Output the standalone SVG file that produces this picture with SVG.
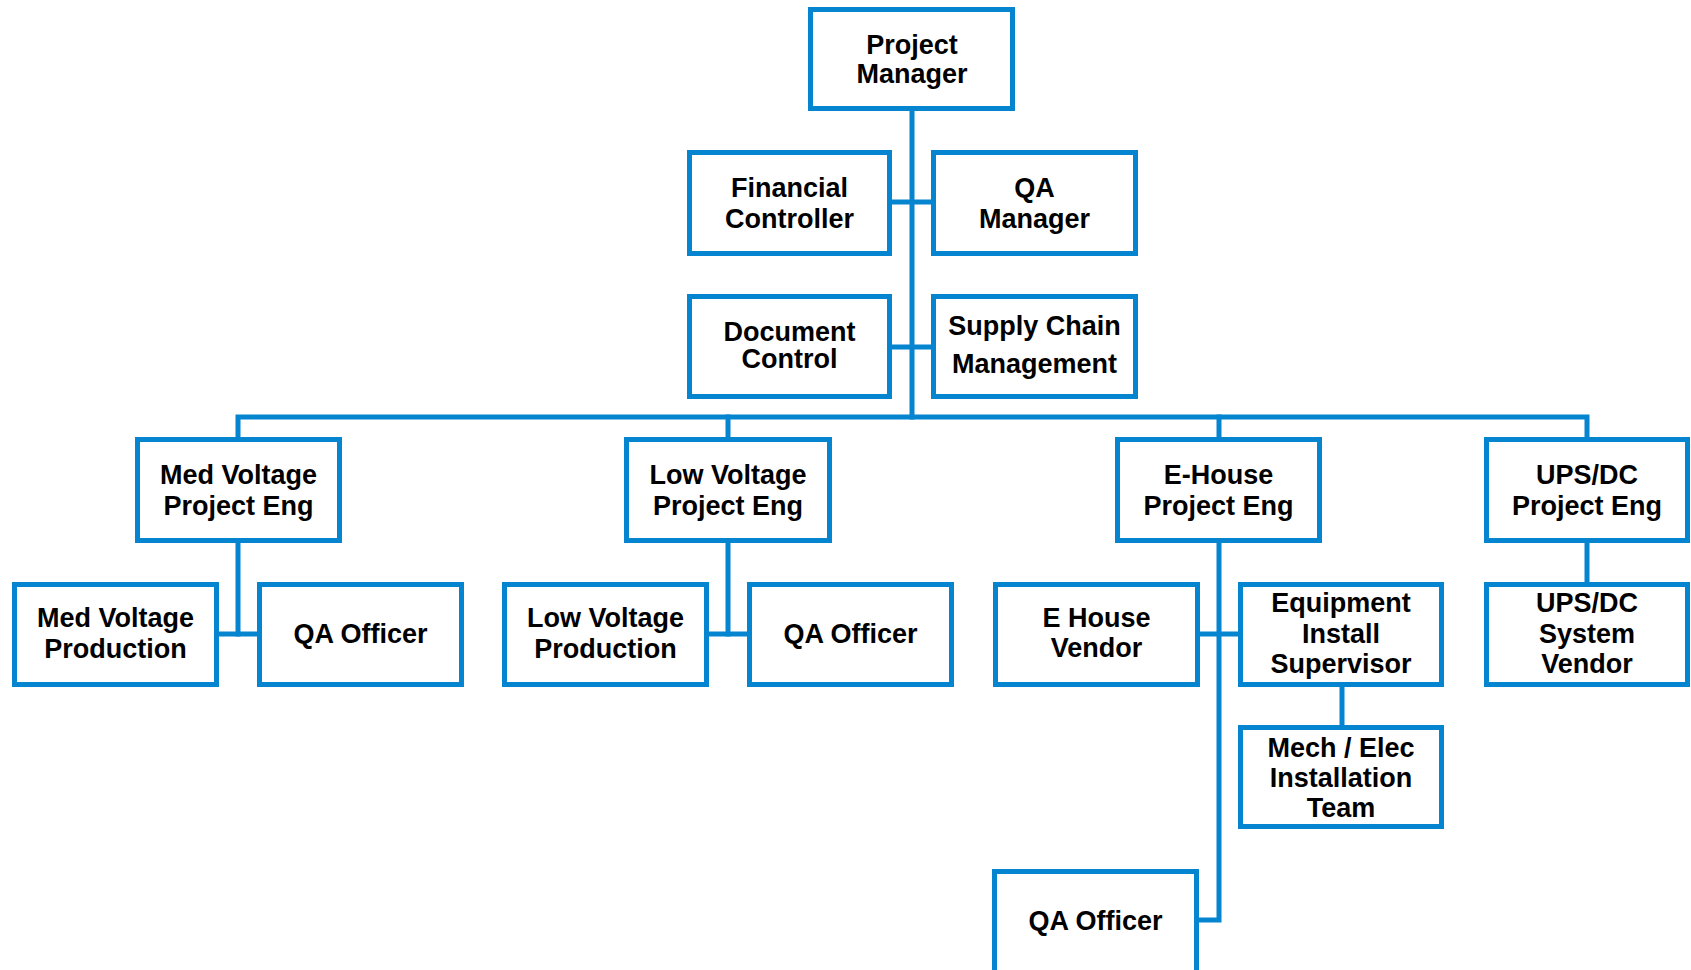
<svg xmlns="http://www.w3.org/2000/svg" width="1691" height="970" viewBox="0 0 1691 970">
<style>
.box{fill:#fff;stroke:#0584D0;stroke-width:5}
.c{fill:none;stroke:#0584D0;stroke-width:5;stroke-linecap:square;stroke-linejoin:miter}
text{font-family:"Liberation Sans",Arial,sans-serif;font-weight:bold;font-size:27px;fill:#000;text-anchor:middle}
</style>
<rect width="1691" height="970" fill="#fff"/>
<g id="connectors">
<path class="c" d="M912,111 V417"/>
<path class="c" d="M892,202 H931"/>
<path class="c" d="M892,347 H931"/>
<path class="c" d="M238,437 V417 H1587 V437"/>
<path class="c" d="M728,417 V437"/>
<path class="c" d="M1219,417 V437"/>
<path class="c" d="M238,543 V634"/>
<path class="c" d="M219,634 H257"/>
<path class="c" d="M728,543 V634"/>
<path class="c" d="M709,634 H747"/>
<path class="c" d="M1219,543 V920 H1199"/>
<path class="c" d="M1200,634 H1238"/>
<path class="c" d="M1342,687 V726"/>
<path class="c" d="M1587,543 V582"/>
</g>
<g id="pm"><rect class="box" x="810.5" y="9.5" width="202" height="99"/><text x="912" y="54">Project</text><text x="912" y="83">Manager</text></g>
<g id="fc"><rect class="box" x="689.5" y="152.5" width="200" height="101"/><text x="789.5" y="197">Financial</text><text x="789.5" y="228">Controller</text></g>
<g id="qam"><rect class="box" x="933.5" y="152.5" width="202" height="101"/><text x="1034.5" y="197">QA</text><text x="1034.5" y="228">Manager</text></g>
<g id="dc"><rect class="box" x="689.5" y="296.5" width="200" height="100"/><text x="789.5" y="341">Document</text><text x="789.5" y="368">Control</text></g>
<g id="scm"><rect class="box" x="933.5" y="296.5" width="202" height="100"/><text x="1034.5" y="335">Supply Chain</text><text x="1034.5" y="373">Management</text></g>
<g id="mvpe"><rect class="box" x="137.5" y="439.5" width="202" height="101"/><text x="238.5" y="484">Med Voltage</text><text x="238.5" y="515">Project Eng</text></g>
<g id="lvpe"><rect class="box" x="626.5" y="439.5" width="203" height="101"/><text x="728" y="484">Low Voltage</text><text x="728" y="515">Project Eng</text></g>
<g id="ehpe"><rect class="box" x="1117.5" y="439.5" width="202" height="101"/><text x="1218.5" y="484">E-House</text><text x="1218.5" y="515">Project Eng</text></g>
<g id="upspe"><rect class="box" x="1486.5" y="439.5" width="201" height="101"/><text x="1587" y="484">UPS/DC</text><text x="1587" y="515">Project Eng</text></g>
<g id="mvprod"><rect class="box" x="14.5" y="584.5" width="202" height="100"/><text x="115.5" y="627">Med Voltage</text><text x="115.5" y="658">Production</text></g>
<g id="mvqa"><rect class="box" x="259.5" y="584.5" width="202" height="100"/><text x="360.5" y="643">QA Officer</text></g>
<g id="lvprod"><rect class="box" x="504.5" y="584.5" width="202" height="100"/><text x="605.5" y="627">Low Voltage</text><text x="605.5" y="658">Production</text></g>
<g id="lvqa"><rect class="box" x="749.5" y="584.5" width="202" height="100"/><text x="850.5" y="643">QA Officer</text></g>
<g id="ehv"><rect class="box" x="995.5" y="584.5" width="202" height="100"/><text x="1096.5" y="627">E House</text><text x="1096.5" y="657">Vendor</text></g>
<g id="eis"><rect class="box" x="1240.5" y="584.5" width="201" height="100"/><text x="1341" y="612">Equipment</text><text x="1341" y="643">Install</text><text x="1341" y="673">Supervisor</text></g>
<g id="upssv"><rect class="box" x="1486.5" y="584.5" width="201" height="100"/><text x="1587" y="612">UPS/DC</text><text x="1587" y="643">System</text><text x="1587" y="673">Vendor</text></g>
<g id="mech"><rect class="box" x="1240.5" y="727.5" width="201" height="99"/><text x="1341" y="757">Mech / Elec</text><text x="1341" y="787">Installation</text><text x="1341" y="817">Team</text></g>
<g id="ehqa"><rect class="box" x="994.5" y="871.5" width="202" height="110"/><text x="1095.5" y="930">QA Officer</text></g>
</svg>
